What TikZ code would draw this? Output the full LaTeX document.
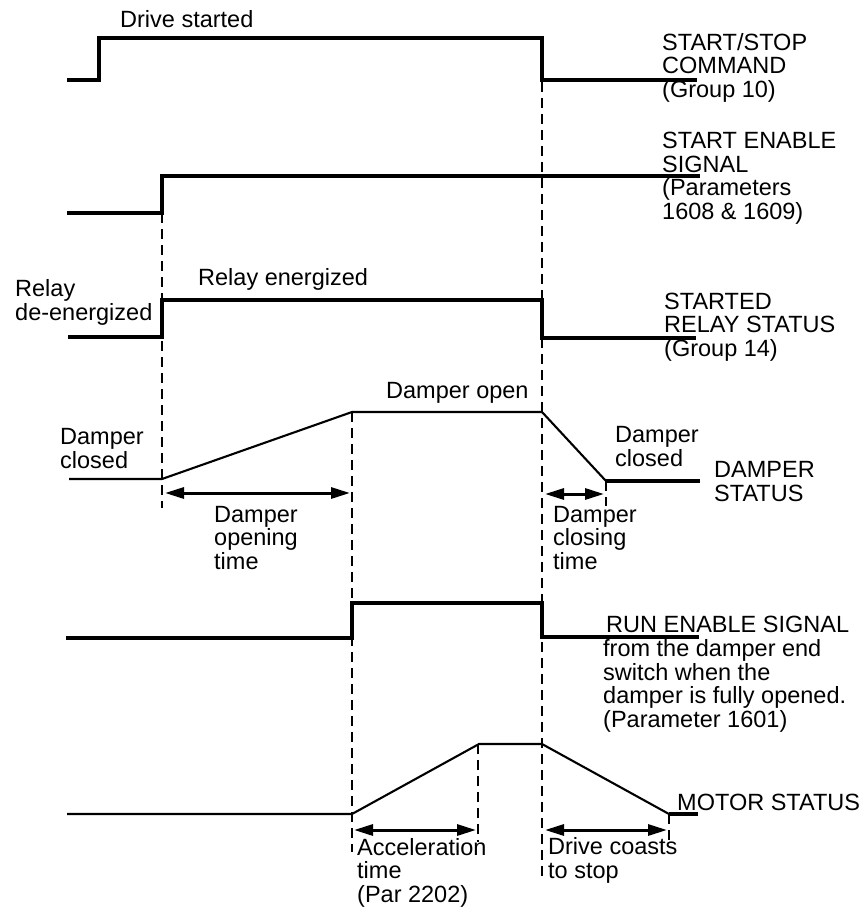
\documentclass[tikz,border=0pt]{standalone}
\usepackage{fontspec}
\setmainfont{Liberation Sans}
\usetikzlibrary{arrows.meta}

\begin{document}
\begin{tikzpicture}[x=1pt, y=-1pt,
    sig/.style={line width=3.4pt, line join=miter},
    ramp/.style={line width=2.1pt, line join=miter},
    guide/.style={line width=2.8pt, dash pattern=on 10pt off 6pt},
    dim/.style={{Triangle[length=19pt,width=11pt]}-{Triangle[length=19pt,width=11pt]}, line width=3pt},
    lbl/.style={anchor=base west, align=left, inner sep=0pt, font=\fontsize{23.5}{23.5}\selectfont}
]
\useasboundingbox (0,0) rectangle (866,913);

\draw[guide] (162,213) -- (162,508);
\draw[guide] (542,82) -- (542,880);
\draw[guide] (352,412) -- (352,852);
\draw[guide] (606,481) -- (606,506);
\draw[guide] (478,744) -- (478,842);
\draw[guide] (669,814) -- (669,842);

\draw[sig] (67,80) -- (99,80) -- (99,38) -- (542,38) -- (542,80) -- (697,80);
\draw[sig] (67,213) -- (162,213) -- (162,176) -- (700,176);
\draw[sig] (68,337) -- (162,337) -- (162,300) -- (542,300) -- (542,338) -- (696,338);
\draw[ramp] (69,479) -- (162,479) -- (352,412) -- (542,412) -- (606,481);
\draw[sig] (606,481) -- (700,481);
\draw[sig] (66,638) -- (352,638) -- (352,603) -- (542,603) -- (542,637) -- (699,637);
\draw[ramp] (67,814) -- (352,814) -- (479,744) -- (542,744) -- (669,814);
\draw[sig] (669,814) -- (698,814);

\coordinate (op1) at (165,493);
\coordinate (op2) at (350,493);
\coordinate (cl1) at (545,494);
\coordinate (cl2) at (604,494);
\coordinate (ac1) at (354,830);
\coordinate (ac2) at (476,830);
\coordinate (co1) at (545,830);
\coordinate (co2) at (667,830);
\draw[dim] (op1) -- (op2);
\draw[dim] (cl1) -- (cl2);
\draw[dim] (ac1) -- (ac2);
\draw[dim] (co1) -- (co2);

\node[lbl] (drv) at (120,27) {Drive started};
\node[lbl] (ss) at (662,97) {START/STOP\\COMMAND\\(Group 10)};
\node[lbl] (se) at (662,219) {START ENABLE\\SIGNAL\\(Parameters\\1608 \& 1609)};
\node[lbl] (ren) at (198,285) {Relay energized};
\node[lbl] (rde) at (15,320) {Relay\\de-energized};
\node[lbl] (srs) at (664,356) {STARTED\\RELAY STATUS\\(Group 14)};
\node[lbl] (dop) at (386,398) {Damper open};
\node[lbl] (dcl) at (60,468) {Damper\\closed};
\node[lbl] (dcr) at (615,466) {Damper\\closed};
\node[lbl] (dst) at (714,501) {DAMPER\\STATUS};
\node[lbl] (dot) at (214,569) {Damper\\opening\\time};
\node[lbl] (dct) at (553,569) {Damper\\closing\\time};
\node[lbl] (res) at (606,632) {RUN ENABLE SIGNAL};
\node[lbl] (rsw) at (603,727) {from the damper end\\switch when the\\damper is fully opened.\\(Parameter 1601)};
\node[lbl] (mst) at (677,810) {MOTOR STATUS};
\node[lbl] (acc) at (357,902) {Acceleration\\time\\(Par 2202)};
\node[lbl] (cst) at (548,878) {Drive coasts\\to stop};
\end{tikzpicture}
\end{document}
